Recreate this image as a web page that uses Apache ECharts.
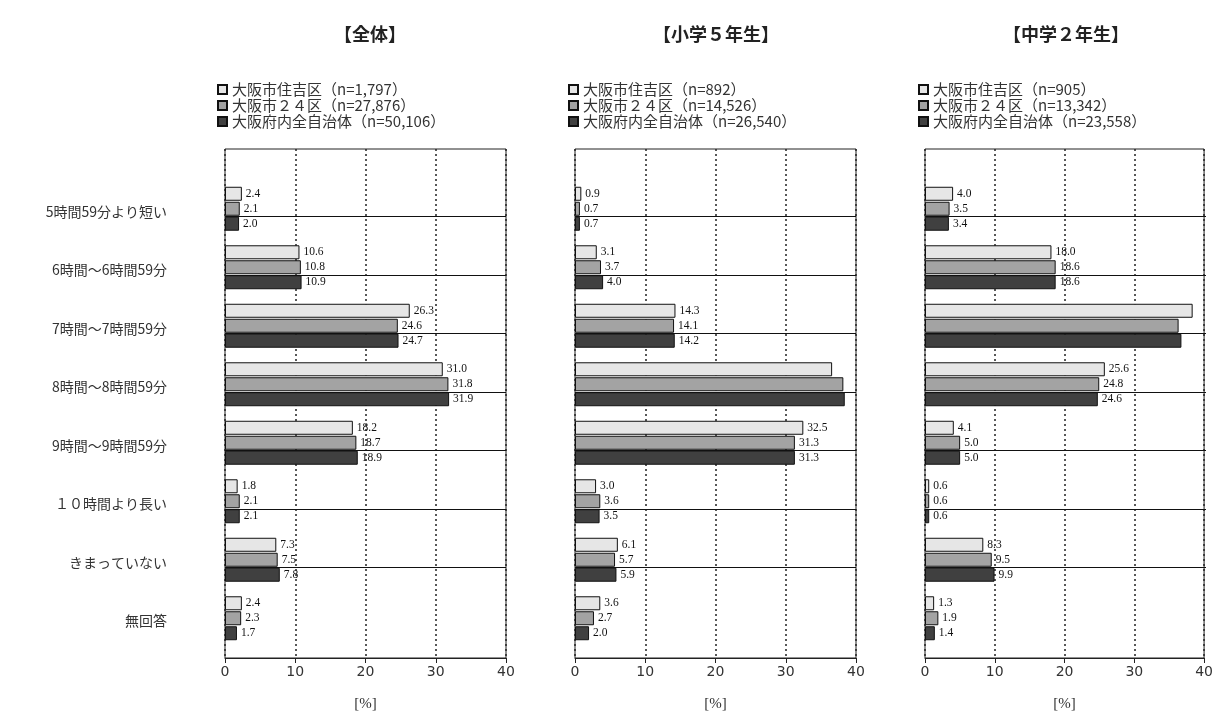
<!DOCTYPE html>
<html><head><meta charset="utf-8">
<script src="https://cdn.jsdelivr.net/npm/echarts@6/dist/echarts.min.js"></script>
<style>html,body{margin:0;padding:0;background:#fff}#c{width:1216px;height:717px}</style>
</head><body><div id="c"></div>
<script>
const categories = ['5時間59分より短い','6時間～6時間59分','7時間～7時間59分','8時間～8時間59分','9時間～9時間59分','１０時間より長い','きまっていない','無回答'];
const groupNames = ['大阪市住吉区','大阪市２４区','大阪府内全自治体'];
const panelTitles = ['【全体】','【小学５年生】','【中学２年生】'];
const sampleSizes = [['1,797','27,876','50,106'],['892','14,526','26,540'],['905','13,342','23,558']];
const xTicks = [0,10,20,30,40];

const allSumiyoshi = [2.4,10.6,26.3,31.0,18.2,1.8,7.3,2.4];
const all24ku      = [2.1,10.8,24.6,31.8,18.7,2.1,7.5,2.3];
const allPref      = [2.0,10.9,24.7,31.9,18.9,2.1,7.8,1.7];

const elemSumiyoshi = [0.9,3.1,14.3,36.6,32.5,3.0,6.1,3.6];
const elem24ku      = [0.7,3.7,14.1,38.2,31.3,3.6,5.7,2.7];
const elemPref      = [0.7,4.0,14.2,38.4,31.3,3.5,5.9,2.0];

const juniorSumiyoshi = [4.0,18.0,38.1,25.6,4.1,0.6,8.3,1.3];
const junior24ku      = [3.5,18.6,36.1,24.8,5.0,0.6,9.5,1.9];
const juniorPref      = [3.4,18.6,36.5,24.6,5.0,0.6,9.9,1.4];

const panelData = [
  [allSumiyoshi, all24ku, allPref],
  [elemSumiyoshi, elem24ku, elemPref],
  [juniorSumiyoshi, junior24ku, juniorPref]
];

const colors = ['#e6e6e6','#a3a3a3','#404040'];
const panelLeft = [225,575,925];
const panelW = 281;
const titleX = [365,711,1061];
const legendX = [212,563,913];
const font = "'Noto Sans CJK JP','DejaVu Sans',sans-serif";

const grid = [], xAxis = [], yAxis = [], series = [], legend = [], title = [];
for (let p = 0; p < 3; p++) {
  const gFrame = grid.length;
  grid.push({left: panelLeft[p], top: 149, width: panelW, height: 513, show: true, borderColor: '#222', borderWidth: 1, backgroundColor: '#fff'});
  const gBar = grid.length;
  grid.push({left: panelLeft[p], top: 187, width: panelW, height: 468});
  xAxis.push({gridIndex: gFrame, type: 'value', min: xTicks[0], max: xTicks[xTicks.length-1], interval: xTicks[1]-xTicks[0],
    axisLine: {show: true, lineStyle: {color: '#222', width: 1}},
    axisTick: {show: true, length: 5, lineStyle: {color: '#222'}},
    axisLabel: {fontSize: 14, color: '#333', margin: 7, fontFamily: "'DejaVu Sans',sans-serif"},
    splitLine: {show: true, lineStyle: {color: '#222', type: [2,3], width: 1.5}},
    name: '[%]', nameLocation: 'middle', nameGap: 39,
    nameTextStyle: {fontFamily: "'Liberation Serif',serif", fontSize: 15, color: '#333'}});
  yAxis.push({gridIndex: gFrame, type: 'value', show: false});
  xAxis.push({gridIndex: gBar, type: 'value', min: xTicks[0], max: xTicks[xTicks.length-1], show: false});
  yAxis.push({gridIndex: gBar, type: 'category', data: categories, inverse: true,
    axisLine: {show: false}, axisTick: {show: false}, splitLine: {show: false},
    axisLabel: {show: p === 0, margin: 58, fontSize: 14, color: '#333', fontFamily: font,
      verticalAlign: 'bottom', lineHeight: 10}});
  const names = [];
  for (let s = 0; s < 3; s++) {
    const nm = groupNames[s] + '（n=' + sampleSizes[p][s] + '）';
    names.push(nm);
    series.push({name: nm, type: 'bar', xAxisIndex: gBar, yAxisIndex: gBar, data: panelData[p][s],
      barWidth: 14, barGap: '7%',
      itemStyle: {color: colors[s], borderColor: '#111', borderWidth: 1},
      label: {show: true, position: 'right', distance: 4, fontSize: 11.5, color: '#111',
        fontFamily: "'Liberation Serif',serif",
        formatter: prm => prm.value > 35 ? '' : prm.value.toFixed(1)}});
  }
  series.push({name: 'spacer' + p, type: 'bar', xAxisIndex: gBar, yAxisIndex: gBar,
    data: categories.map(() => 0), barWidth: 14, barGap: '7%',
    itemStyle: {color: 'rgba(0,0,0,0)', borderWidth: 0}, silent: true});
  series.push({name: 'rules' + p, type: 'line', xAxisIndex: gBar, yAxisIndex: gBar,
    data: [], silent: true, showSymbol: false,
    markLine: {symbol: 'none', silent: true, label: {show: false},
      lineStyle: {color: '#111', type: 'solid', width: 1},
      data: categories.slice(0, 7).map(c => ({yAxis: c}))}});
  legend.push({orient: 'vertical', left: legendX[p], top: 77, itemWidth: 9, itemHeight: 9, itemGap: 1,
    icon: 'rect', data: names, textStyle: {fontSize: 15, color: '#333', fontFamily: font, lineHeight: 14}});
  title.push({text: panelTitles[p], left: titleX[p], top: 20, textAlign: 'center',
    textStyle: {fontSize: 18, fontWeight: 'bold', color: '#222', fontFamily: font}});
}

const chart = echarts.init(document.getElementById('c'));
chart.setOption({animation: false, backgroundColor: '#fff', textStyle: {fontFamily: font},
  title, legend, grid, xAxis, yAxis, series});
</script></body></html>
